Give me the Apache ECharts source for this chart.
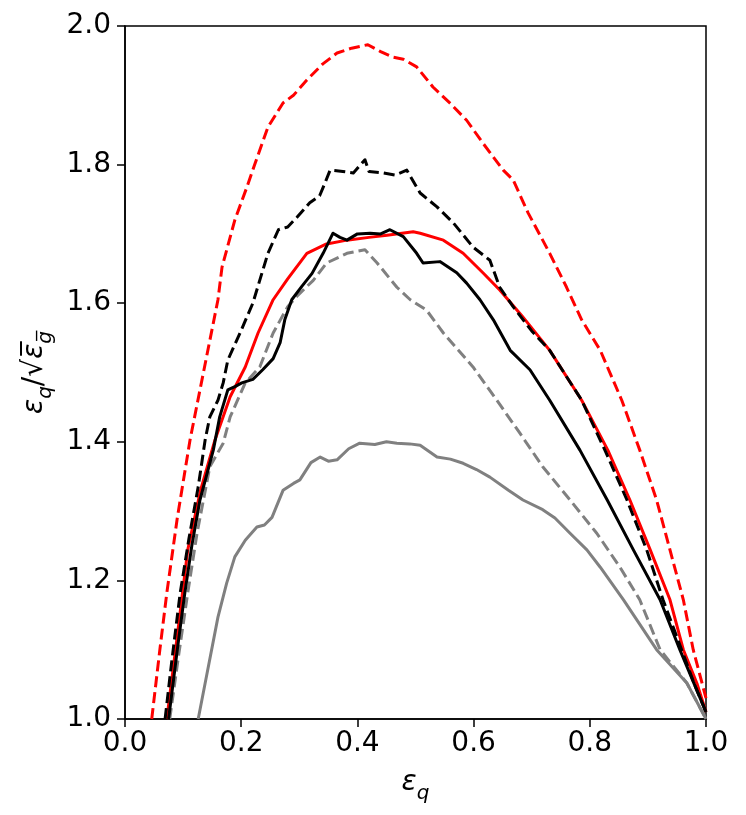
<!DOCTYPE html>
<html>
<head>
<meta charset="utf-8">
<script src="https://cdn.jsdelivr.net/npm/echarts@6/dist/echarts.min.js"></script>
<style>html,body{margin:0;padding:0;background:#fff}#c{width:746px;height:815px}</style>
</head>
<body>
<div id="c"></div>
<script>
const xTicks = [0, 0.2, 0.4, 0.6, 0.8, 1.0];
const yTicks = [1.0, 1.2, 1.4, 1.6, 1.8, 2.0];

const redDashed = [[0.046,1.0],[0.060,1.10],[0.072,1.182],[0.090,1.29],[0.112,1.403],[0.135,1.50],[0.160,1.605],[0.167,1.652],[0.189,1.72],[0.210,1.768],[0.224,1.802],[0.246,1.854],[0.272,1.889],[0.290,1.90],[0.313,1.922],[0.340,1.945],[0.365,1.961],[0.390,1.968],[0.418,1.973],[0.440,1.963],[0.461,1.955],[0.479,1.952],[0.502,1.941],[0.530,1.912],[0.559,1.889],[0.588,1.864],[0.616,1.831],[0.651,1.792],[0.668,1.778],[0.694,1.730],[0.731,1.672],[0.760,1.623],[0.786,1.576],[0.818,1.532],[0.855,1.460],[0.886,1.388],[0.915,1.316],[0.938,1.244],[0.961,1.172],[0.978,1.100],[1.0,1.03]];
const redSolid = [[0.072,1.0],[0.090,1.12],[0.108,1.244],[0.130,1.33],[0.155,1.403],[0.181,1.465],[0.207,1.508],[0.229,1.557],[0.255,1.605],[0.280,1.635],[0.313,1.672],[0.345,1.685],[0.382,1.691],[0.420,1.695],[0.451,1.698],[0.496,1.703],[0.508,1.701],[0.548,1.691],[0.582,1.672],[0.616,1.644],[0.645,1.619],[0.683,1.582],[0.731,1.532],[0.786,1.460],[0.831,1.388],[0.869,1.316],[0.904,1.244],[0.938,1.172],[0.961,1.100],[0.985,1.05],[1.0,1.01]];
const blackDashed = [[0.069,1.0],[0.080,1.08],[0.095,1.182],[0.110,1.26],[0.126,1.335],[0.138,1.403],[0.146,1.436],[0.160,1.46],[0.169,1.485],[0.177,1.518],[0.198,1.557],[0.220,1.600],[0.246,1.672],[0.264,1.706],[0.280,1.71],[0.296,1.724],[0.318,1.745],[0.335,1.755],[0.344,1.773],[0.353,1.792],[0.375,1.79],[0.393,1.788],[0.413,1.807],[0.420,1.79],[0.444,1.788],[0.465,1.785],[0.485,1.792],[0.508,1.759],[0.537,1.739],[0.565,1.716],[0.599,1.681],[0.628,1.662],[0.645,1.623],[0.668,1.595],[0.700,1.56],[0.731,1.532],[0.786,1.460],[0.826,1.388],[0.864,1.316],[0.898,1.244],[0.926,1.172],[0.958,1.100],[0.980,1.05],[1.0,1.01]];
const blackSolid = [[0.075,1.0],[0.090,1.10],[0.103,1.182],[0.115,1.25],[0.129,1.316],[0.152,1.388],[0.163,1.436],[0.177,1.475],[0.190,1.48],[0.201,1.485],[0.220,1.49],[0.237,1.504],[0.255,1.52],[0.267,1.543],[0.275,1.576],[0.287,1.605],[0.305,1.625],[0.322,1.643],[0.341,1.672],[0.358,1.701],[0.370,1.695],[0.382,1.691],[0.400,1.70],[0.422,1.701],[0.440,1.70],[0.456,1.706],[0.479,1.696],[0.502,1.672],[0.513,1.658],[0.542,1.660],[0.571,1.644],[0.588,1.629],[0.611,1.605],[0.634,1.576],[0.663,1.532],[0.697,1.504],[0.731,1.460],[0.783,1.388],[0.830,1.316],[0.875,1.244],[0.921,1.172],[0.955,1.100],[0.980,1.05],[1.0,1.01]];
const grayDashed = [[0.077,1.0],[0.092,1.09],[0.108,1.182],[0.124,1.268],[0.146,1.364],[0.169,1.398],[0.181,1.436],[0.207,1.485],[0.232,1.508],[0.255,1.557],[0.280,1.595],[0.296,1.610],[0.324,1.633],[0.347,1.658],[0.382,1.672],[0.413,1.677],[0.434,1.658],[0.468,1.623],[0.491,1.605],[0.519,1.590],[0.548,1.557],[0.599,1.508],[0.640,1.460],[0.680,1.412],[0.719,1.364],[0.766,1.316],[0.812,1.268],[0.852,1.219],[0.886,1.172],[0.921,1.100],[0.967,1.052],[1.0,1.0]];
const graySolid = [[0.126,1.0],[0.138,1.052],[0.160,1.147],[0.175,1.196],[0.189,1.234],[0.207,1.258],[0.227,1.277],[0.240,1.28],[0.253,1.291],[0.272,1.330],[0.290,1.340],[0.301,1.345],[0.320,1.37],[0.336,1.378],[0.350,1.372],[0.365,1.374],[0.385,1.39],[0.404,1.398],[0.430,1.396],[0.450,1.40],[0.468,1.398],[0.490,1.397],[0.508,1.395],[0.537,1.378],[0.560,1.375],[0.582,1.369],[0.605,1.36],[0.628,1.349],[0.660,1.33],[0.685,1.316],[0.719,1.302],[0.740,1.29],[0.766,1.268],[0.795,1.244],[0.818,1.219],[0.858,1.172],[0.915,1.100],[0.967,1.052],[1.0,1.0]];

const FONT = 'DejaVu Sans';
const chart = echarts.init(document.getElementById('c'), null, {renderer: 'canvas'});

function line(data, color, dashed) {
  return {
    type: 'line', data: data, showSymbol: false, symbol: 'none', animation: false,
    clip: true,
    lineStyle: {color: color, width: 3, type: dashed ? [11, 5] : 'solid', cap: 'butt', join: 'round'}
  };
}

const nameRich = {
  e: {fontFamily: FONT, fontStyle: 'italic', fontSize: 28, color: '#000', verticalAlign: 'bottom', lineHeight: 34},
  n: {fontFamily: FONT, fontSize: 28, color: '#000', verticalAlign: 'bottom', lineHeight: 34},
  s: {fontFamily: FONT, fontStyle: 'italic', fontSize: 20, color: '#000', verticalAlign: 'bottom', lineHeight: 24, padding: [0,0,-7,0]}
};

chart.setOption({
  animation: false,
  backgroundColor: '#fff',
  grid: {left: 125, right: 40, top: 26, bottom: 96, show: true, borderColor: '#000', borderWidth: 1.5, backgroundColor: 'transparent'},
  xAxis: {
    type: 'value', min: 0, max: 1, interval: 0.2,
    name: '{e|ε}{s|q}', nameLocation: 'middle', nameGap: 44,
    nameTextStyle: {rich: nameRich},
    axisLine: {show: true, lineStyle: {color: '#000', width: 1.5}},
    axisTick: {show: true, inside: false, length: 8, lineStyle: {color: '#000', width: 1.5}},
    axisLabel: {fontFamily: FONT, fontSize: 28, color: '#000', margin: 11, formatter: v => v.toFixed(1)},
    splitLine: {show: false}
  },
  yAxis: {
    type: 'value', min: 1, max: 2, interval: 0.2,
    name: '{e|ε}{s|q}{n|/√}{e|ε̅}{s|g̅}', nameLocation: 'middle', nameGap: 72, nameRotate: 90,
    nameTextStyle: {rich: nameRich},
    axisLine: {show: true, lineStyle: {color: '#000', width: 1.5}},
    axisTick: {show: true, inside: false, length: 8, lineStyle: {color: '#000', width: 1.5}},
    axisLabel: {fontFamily: FONT, fontSize: 28, color: '#000', margin: 14, formatter: v => v.toFixed(1)},
    splitLine: {show: false}
  },
  series: [
    line(graySolid, '#808080', false),
    line(grayDashed, '#808080', true),
    line(redDashed, '#ff0000', true),
    line(redSolid, '#ff0000', false),
    line(blackSolid, '#000000', false),
    line(blackDashed, '#000000', true)
  ]
});
</script>
</body>
</html>
